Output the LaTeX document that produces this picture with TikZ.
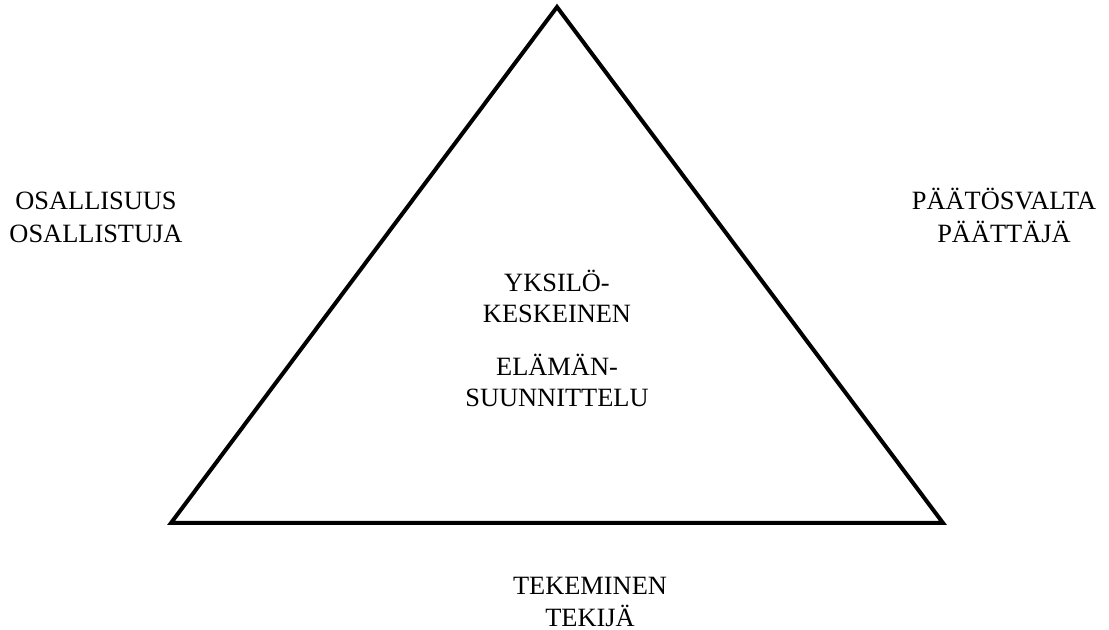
\documentclass[tikz,border=0pt]{standalone}
\usepackage{fontspec}
\setmainfont{Liberation Serif}
\usepackage{tikz}
\tikzset{>=latex}
\tikzset{lbl/.style={anchor=base, inner sep=0pt, font=\fontsize{13.2}{16}\selectfont}}

\begin{document}
\begin{tikzpicture}[x=0.5pt, y=-0.5pt]
\useasboundingbox (0,0) rectangle (1109,630);
\coordinate (top) at (557,7);
\coordinate (left) at (171,523);
\coordinate (right) at (943,523);
\draw[line width=2pt, line join=miter] (top) -- (right) -- (left) -- cycle;
\node[lbl] (osa1) at (96,210) {OSALLISUUS};
\node[lbl] (osa2) at (96,243) {OSALLISTUJA};
\node[lbl] (paa1) at (1004,210) {PÄÄTÖSVALTA};
\node[lbl] (paa2) at (1004,243) {PÄÄTTÄJÄ};
\node[lbl] (yks1) at (557,292) {YKSILÖ-};
\node[lbl] (yks2) at (557,323) {KESKEINEN};
\node[lbl] (ela1) at (557,376) {ELÄMÄN-};
\node[lbl] (ela2) at (557,407) {SUUNNITTELU};
\node[lbl] (tek1) at (590,595) {TEKEMINEN};
\node[lbl] (tek2) at (590,626) {TEKIJÄ};
\end{tikzpicture}
\end{document}
